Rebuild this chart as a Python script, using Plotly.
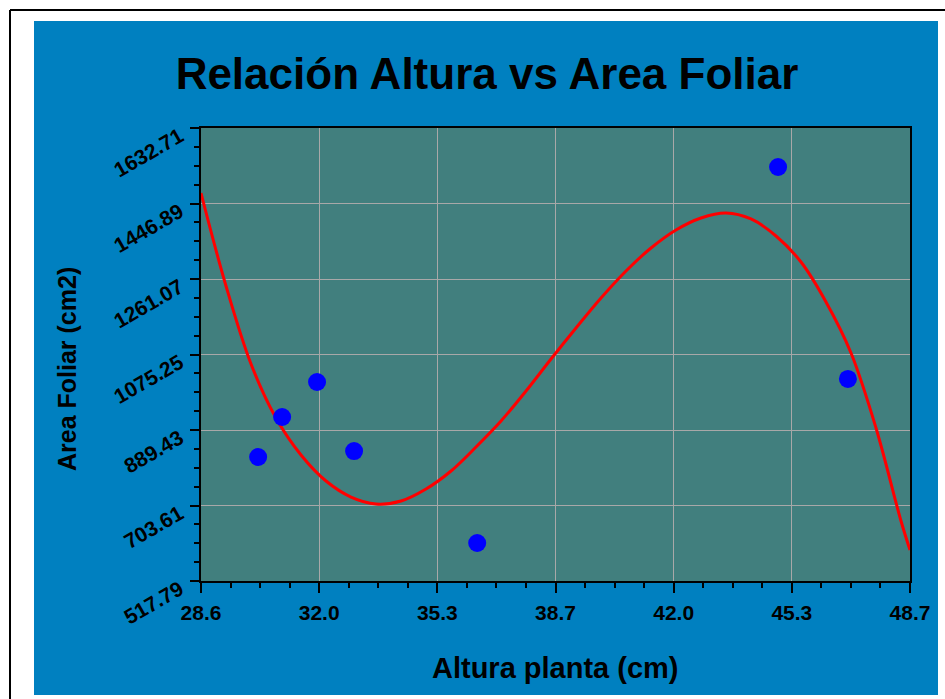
import plotly.graph_objects as go

# ---- data ----
altura = [30.22, 30.90, 31.89, 32.94, 36.43, 44.96, 46.94]
area_foliar = [823.0, 921.4, 1007.6, 837.7, 611.3, 1536.7, 1015.0]

# fitted trend curve at regular steps
curve_x = [28.600, 29.309, 30.018, 30.726, 31.435, 32.144, 32.853, 33.561, 34.270, 34.979,
           35.688, 36.396, 37.105, 37.814, 38.523, 39.231, 39.940, 40.649, 41.358, 42.066,
           42.775, 43.484, 44.193, 44.901, 45.610, 46.319, 47.028, 47.736, 48.445, 48.700]
curve_y = [1472.7, 1243.9, 1051.9, 919.0, 827.9, 763.9, 724.5, 707.3, 714.7, 744.2,
           788.5, 847.6, 911.6, 985.4, 1064.2, 1140.5, 1214.3, 1280.8, 1337.4, 1381.7,
           1411.2, 1423.5, 1408.8, 1366.9, 1302.9, 1204.5, 1079.0, 894.4, 665.5, 594.1]

x_tick_vals = [28.6, 31.95, 35.3, 38.65, 42.0, 45.35, 48.7]
x_tick_text = ["28.6", "32.0", "35.3", "38.7", "42.0", "45.3", "48.7"]
y_tick_vals = [517.79, 703.61, 889.43, 1075.25, 1261.07, 1446.89, 1632.71]
y_tick_text = ["517.79", "703.61", "889.43", "1075.25", "1261.07", "1446.89", "1632.71"]

title_text = "Relación Altura vs Area Foliar"
x_title = "Altura planta (cm)"
y_title = "Area Foliar (cm2)"

# ---- layout geometry (pixels) ----
W, H = 945, 699
L, R, T, B = 201, 910, 128, 581
pw, ph = R - L, B - T


def px(xp):
    return (xp - L) / pw


def py(yp):
    return (B - yp) / ph


FONT = "Liberation Sans, Arial, sans-serif"

fig = go.Figure()
fig.add_trace(go.Scatter(
    x=curve_x, y=curve_y, mode="lines",
    line=dict(color="#ff0000", width=3, shape="spline", smoothing=1.0),
    hoverinfo="skip", showlegend=False,
))
fig.add_trace(go.Scatter(
    x=altura, y=area_foliar, mode="markers",
    marker=dict(color="#0000ff", size=18, line=dict(width=0)),
    showlegend=False,
))

fig.update_layout(
    width=W, height=H,
    margin=dict(l=L, r=W - R, t=T, b=H - B, autoexpand=False),
    paper_bgcolor="#ffffff",
    plot_bgcolor="#417f7e",
    font=dict(family=FONT, color="#000000"),
    title=dict(text=title_text, x=487 / W, xanchor="center",
               y=1 - 74 / H, yanchor="middle", yref="container",
               font=dict(family=FONT, size=44, weight="bold", color="#000000")),
    showlegend=False,
    shapes=[
        dict(type="rect", xref="paper", yref="paper", layer="below",
             x0=px(34), x1=px(938), y0=py(695), y1=py(21),
             fillcolor="#0080c0", line=dict(width=0)),
        dict(type="rect", xref="paper", yref="paper", layer="below",
             x0=0, x1=1, y0=0, y1=1,
             fillcolor="#417f7e", line=dict(width=0)),
        dict(type="line", xref="paper", yref="paper", layer="below",
             x0=px(10), x1=px(960), y0=py(10), y1=py(10),
             line=dict(color="#000000", width=2)),
        dict(type="line", xref="paper", yref="paper", layer="below",
             x0=px(10), x1=px(10), y0=py(10), y1=py(710),
             line=dict(color="#000000", width=2)),
    ],
    annotations=[
        dict(text=x_title, xref="paper", yref="paper", x=px(555), y=py(668),
             xanchor="center", yanchor="middle", showarrow=False,
             font=dict(family=FONT, size=29, weight="bold", color="#000000")),
        dict(text=y_title, xref="paper", yref="paper", x=px(67), y=py(369),
             xanchor="center", yanchor="middle", showarrow=False, textangle=-90,
             font=dict(family=FONT, size=25, weight="bold", color="#000000")),
    ],
)

fig.update_xaxes(
    range=[28.6, 48.7], tickmode="array", tickvals=x_tick_vals, ticktext=x_tick_text,
    showgrid=True, gridcolor="#a8a8a8", gridwidth=1, zeroline=False,
    showline=True, linecolor="#000000", linewidth=2, mirror=True,
    ticks="outside", ticklen=10, tickwidth=2, tickcolor="#000000",
    ticklabelstandoff=2,
    tickfont=dict(family=FONT, size=21, weight="bold", color="#000000"),
    minor=dict(tickmode="linear", tick0=28.6, dtick=0.8375, ticks="outside",
               ticklen=5, tickwidth=2, tickcolor="#000000", showgrid=False),
)
fig.update_yaxes(
    range=[517.79, 1632.71], tickmode="array", tickvals=y_tick_vals, ticktext=y_tick_text,
    showgrid=True, gridcolor="#a8a8a8", gridwidth=1, zeroline=False,
    showline=True, linecolor="#000000", linewidth=2, mirror=True,
    ticks="outside", ticklen=9, tickwidth=2, tickcolor="#000000",
    tickangle=-30, ticklabelstandoff=6, ticklabelshift=6,
    tickfont=dict(family=FONT, size=21, weight="bold", color="#000000"),
    minor=dict(tickmode="linear", tick0=517.79, dtick=46.455, ticks="outside",
               ticklen=5, tickwidth=2, tickcolor="#000000", showgrid=False),
)

fig.write_html("out.html")
